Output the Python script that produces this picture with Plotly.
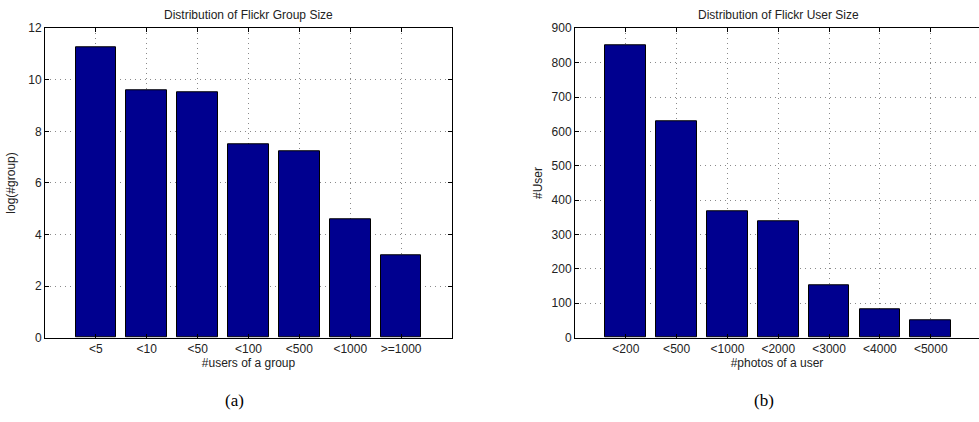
import plotly.graph_objects as go

# Panel (a): group sizes
group_bins = ["<5", "<10", "<50", "<100", "<500", "<1000", ">=1000"]
group_log_counts = [11.26, 9.61, 9.52, 7.52, 7.22, 4.59, 3.18]

# Panel (b): user sizes
user_bins = ["<200", "<500", "<1000", "<2000", "<3000", "<4000", "<5000"]
user_counts = [850, 629, 368, 339, 152, 83, 52]

BAR = "#00008F"
FONT = "Liberation Sans, Arial, sans-serif"
TXT = "#222222"
FS = 12

W, H = 979, 422
fig = go.Figure()

pos_a = list(range(1, len(group_bins) + 1))
pos_b = list(range(1, len(user_bins) + 1))

fig.add_trace(go.Bar(x=pos_a, y=group_log_counts, width=0.8,
                     marker=dict(color=BAR, line=dict(color="black", width=1)),
                     xaxis="x", yaxis="y", showlegend=False))
fig.add_trace(go.Bar(x=pos_b, y=user_counts, width=0.8,
                     marker=dict(color=BAR, line=dict(color="black", width=1)),
                     xaxis="x2", yaxis="y2", showlegend=False))

y_dom = [1 - 342 / H, 1 - 22 / H]
xa_dom = [45 / W, 452 / W]
xb_dom = [575 / W, 1.0]

common_axis = dict(
    showline=True, linecolor="black", linewidth=1,
    ticks="inside", ticklen=4, tickcolor="black",
    showgrid=True, gridcolor="#8a8a8a", griddash="1px,4px", gridwidth=1,
    zeroline=False,
    tickfont=dict(family=FONT, size=FS, color=TXT),
)

fig.update_layout(
    width=W, height=H,
    margin=dict(l=0, r=0, t=0, b=0),
    plot_bgcolor="white", paper_bgcolor="white",
    bargap=0,
    xaxis=dict(domain=xa_dom, range=[0, 8], tickvals=pos_a, ticktext=group_bins,
               mirror="ticks", anchor="y",
               title=dict(text="#users of a group", standoff=1,
                          font=dict(family=FONT, size=FS, color=TXT)),
               **common_axis),
    yaxis=dict(domain=y_dom, range=[0, 12], tickvals=[0, 2, 4, 6, 8, 10, 12],
               mirror="ticks", anchor="x",
               title=dict(text="log(#group)", standoff=10,
                          font=dict(family=FONT, size=FS, color=TXT)),
               **common_axis),
    xaxis2=dict(domain=xb_dom, range=[0, 7.95], tickvals=pos_b, ticktext=user_bins,
                mirror="ticks", anchor="y2",
                title=dict(text="#photos of a user", standoff=1,
                           font=dict(family=FONT, size=FS, color=TXT)),
                **common_axis),
    yaxis2=dict(domain=y_dom, range=[0, 900],
                tickvals=[0, 100, 200, 300, 400, 500, 600, 700, 800, 900],
                mirror=False, anchor="x2",
                title=dict(text="#User", standoff=6,
                           font=dict(family=FONT, size=FS, color=TXT)),
                **common_axis),
)

annotations = [
    dict(text="Distribution of Flickr Group Size", x=(xa_dom[0] + xa_dom[1]) / 2,
         y=1 - 8 / H, font=dict(family=FONT, size=FS, color=TXT)),
    dict(text="Distribution of Flickr User Size", x=(575 + 981) / 2 / W,
         y=1 - 8 / H, font=dict(family=FONT, size=FS, color=TXT)),
    dict(text="(a)", x=234 / W, y=1 - 407 / H,
         font=dict(family="Liberation Serif, DejaVu Serif, serif", size=17, color="black")),
    dict(text="(b)", x=764 / W, y=1 - 407 / H,
         font=dict(family="Liberation Serif, DejaVu Serif, serif", size=17, color="black")),
]
for a in annotations:
    fig.add_annotation(xref="paper", yref="paper", showarrow=False,
                       xanchor="center", yanchor="middle", **a)

fig.write_html("out.html")
